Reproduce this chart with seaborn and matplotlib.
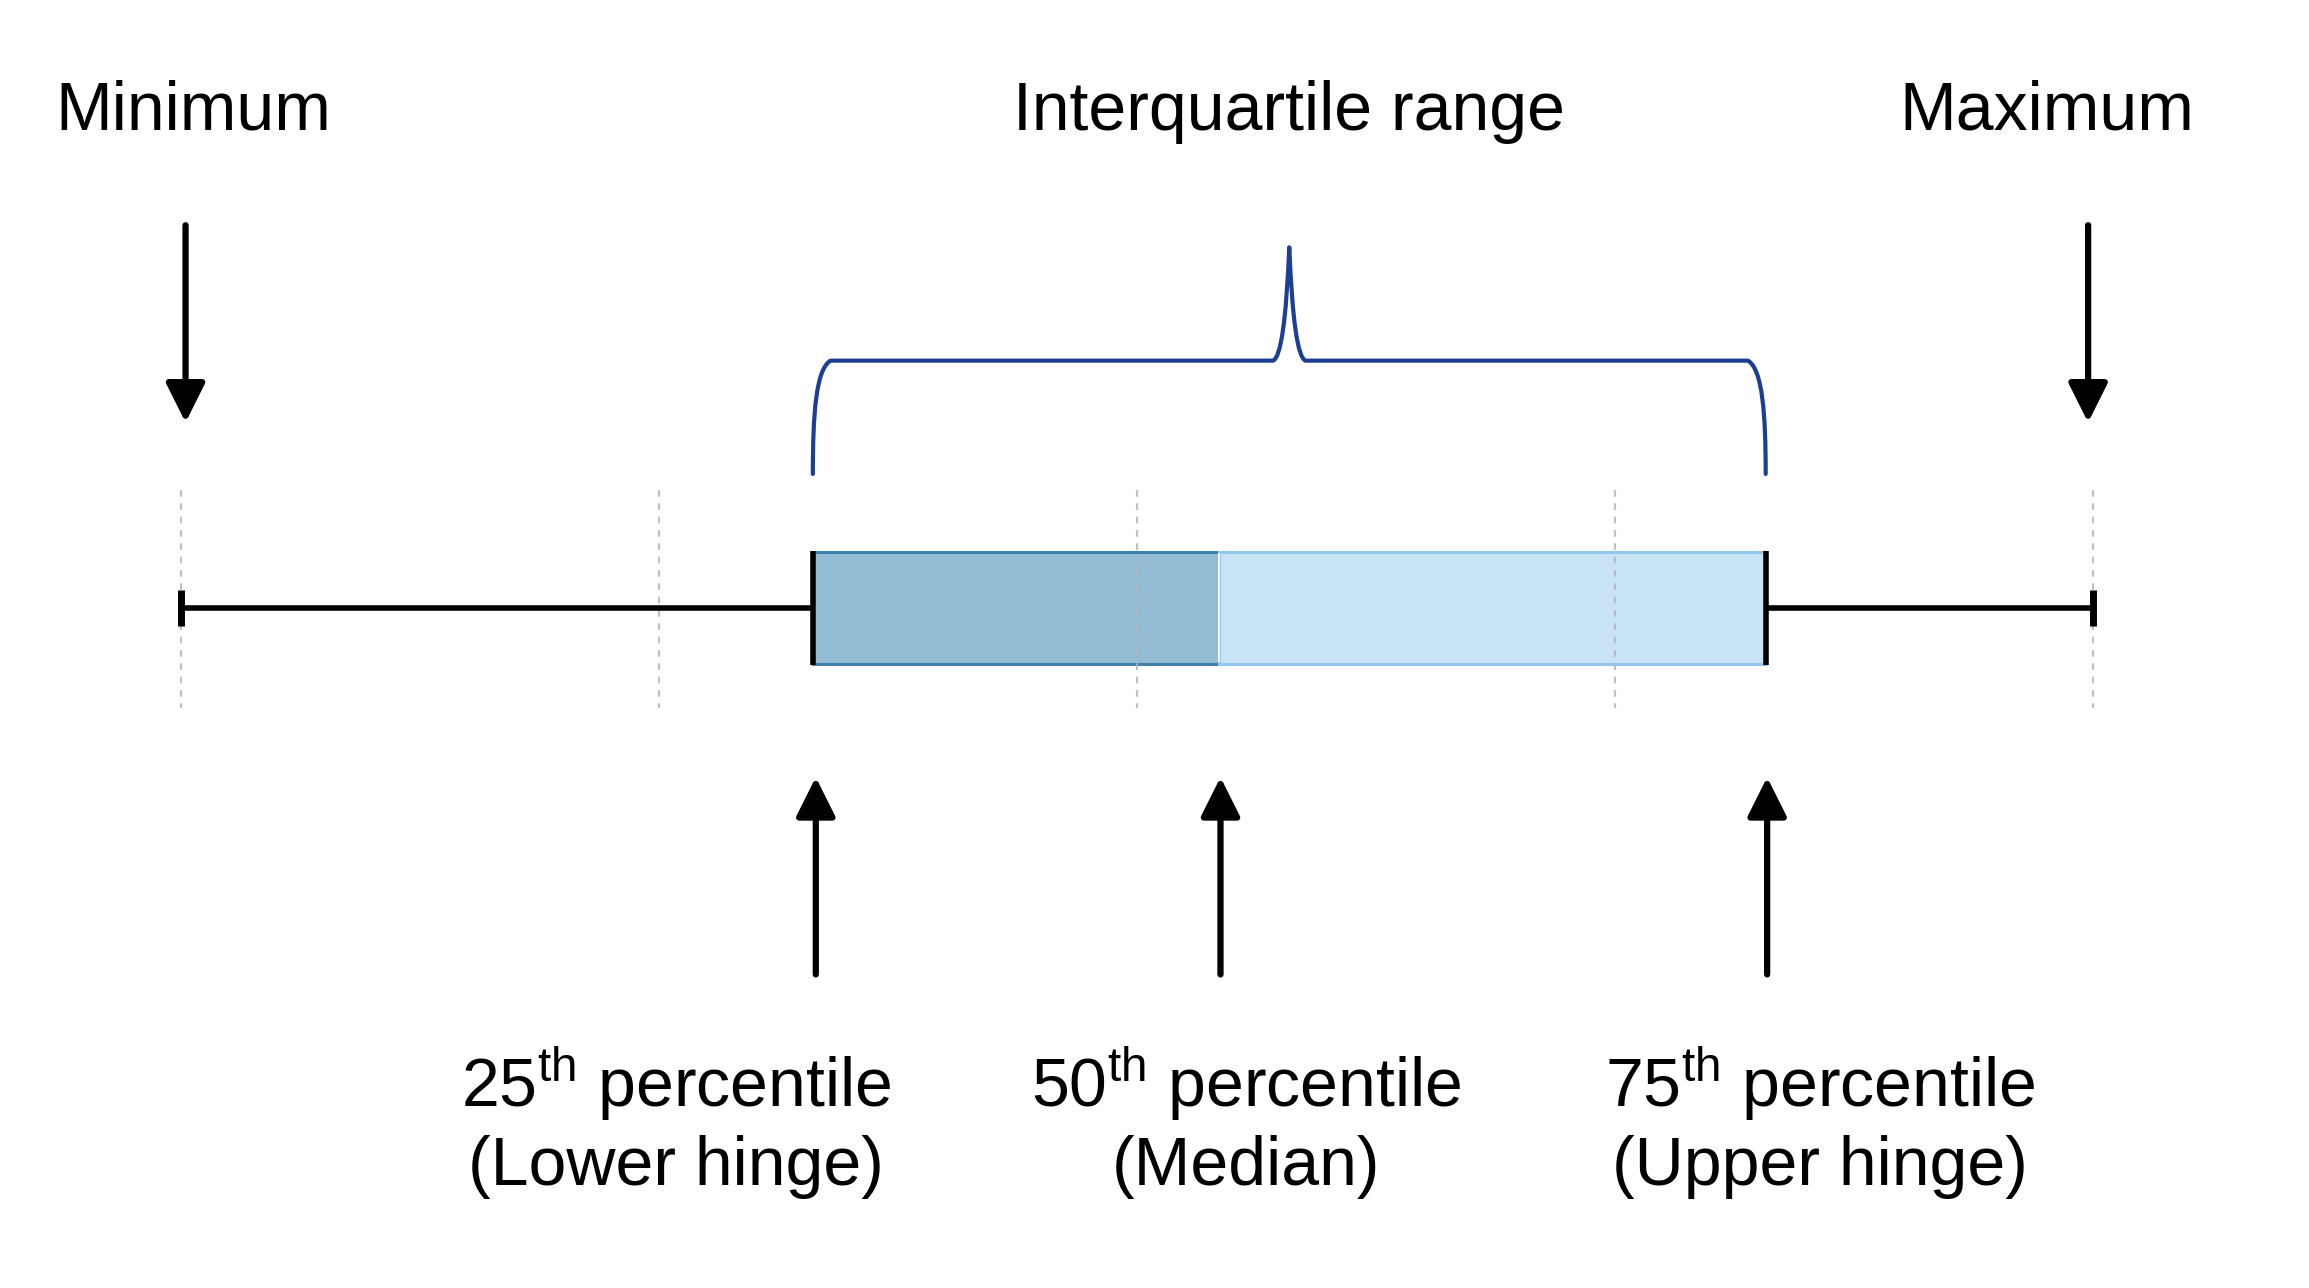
import numpy as np
import pandas as pd
import matplotlib
matplotlib.use("Agg")
import matplotlib.pyplot as plt
from matplotlib.path import Path
from matplotlib.patches import PathPatch
import seaborn as sns

# ---- data (percent scale) ----
stat_names = ["Minimum", "25th percentile", "Median", "75th percentile", "Maximum"]
stat_values = [0.0, 33.05, 54.3, 82.9, 100.0]
grid_ticks = [0, 25, 50, 75, 100]
top_labels = ["Minimum", "Interquartile range", "Maximum"]
bottom_labels = [("25$^{\\mathrm{th}}$ percentile", "(Lower hinge)"),
                 ("50$^{\\mathrm{th}}$ percentile", "(Median)"),
                 ("75$^{\\mathrm{th}}$ percentile", "(Upper hinge)")]

vmin, q1, med, q3, vmax = stat_values

sns.set_theme(style="white")
plt.rcParams["font.family"] = ["Liberation Sans", "DejaVu Sans"]
plt.rcParams["mathtext.fontset"] = "custom"
plt.rcParams["mathtext.rm"] = "Liberation Sans"
plt.rcParams["mathtext.it"] = "Liberation Sans"

fig = plt.figure(figsize=(23.09, 12.88), dpi=100)
ax = fig.add_axes([0, 0, 1, 1])
ax.set_axis_off()

# layout helpers (reference frame 1568 x 875)
FW, FH = 1568.0, 875.0
PX0, PX100 = 123.0, 1421.0
def px2x(px):
    return (px - PX0) / (PX100 - PX0) * 100.0
def dx(px):
    return px / (PX100 - PX0) * 100.0

ax.set_xlim(px2x(0), px2x(FW))
ax.set_ylim(FH, 0)

yc = 413
box_h = 76
FS = 49

# dashed reference lines
ax.vlines(grid_ticks, 333, 481, colors="#b5b5b5", linestyles=(0, (3, 3)),
          linewidth=1.6, zorder=3, alpha=0.85)

# box: lower half and upper half
ax.barh(yc, med - q1, left=q1, height=box_h, color="#93bbd4",
        edgecolor="#3f80ad", linewidth=2.2, zorder=2)
ax.barh(yc, q3 - med, left=med, height=box_h, color="#c7e3f5",
        edgecolor="#92c6ea", linewidth=2.2, zorder=2)
ax.vlines([med], yc - box_h / 2 + 1, yc + box_h / 2 - 1, colors="#eef7fd",
          lw=1.5, zorder=2.5)

# whiskers
ax.plot([vmin, q1], [yc, yc], color="black", lw=4.0, zorder=4, solid_capstyle="butt")
ax.plot([q3, vmax], [yc, yc], color="black", lw=4.0, zorder=4, solid_capstyle="butt")
ax.vlines([vmin, vmax], yc - 12, yc + 12, colors="black", lw=5.0, zorder=4)
ax.vlines([q1, q3], yc - 39, yc + 39, colors="black", lw=4.0, zorder=5)

# brace over the IQR
xc = (q1 + q3) / 2
yb, yt, yp = 322, 245, 168
r = dx(12)
verts = [
    (q1, yb), (q1, yb - 40), (q1 + dx(2), yt + 6), (q1 + r, yt),
    (xc - dx(11), yt),
    (xc - dx(3), yt - 3), (xc, yp),
    (xc + dx(3), yt - 3), (xc + dx(11), yt),
    (q3 - r, yt),
    (q3 - dx(2), yt + 6), (q3, yb - 40), (q3, yb),
]
codes = [Path.MOVETO, Path.CURVE4, Path.CURVE4, Path.CURVE4,
         Path.LINETO,
         Path.CURVE3, Path.CURVE3,
         Path.CURVE3, Path.CURVE3,
         Path.LINETO,
         Path.CURVE4, Path.CURVE4, Path.CURVE4]
ax.add_patch(PathPatch(Path(verts, codes), fill=False, edgecolor="#1c3f94",
                       lw=3.0, capstyle="round", joinstyle="round", zorder=4))

# arrows
aprops = dict(arrowstyle="-|>,head_length=0.6,head_width=0.3", color="black",
              lw=4.5, shrinkA=0, shrinkB=0, mutation_scale=40)
for xv in [vmin + dx(3), vmax - dx(3)]:
    ax.annotate("", xy=(xv, 287), xytext=(xv, 153), arrowprops=aprops)
for xv in [q1 + dx(2), med + dx(1), q3 + dx(1)]:
    ax.annotate("", xy=(xv, 528), xytext=(xv, 662), arrowprops=aprops)

# top labels
top_x = [px2x(131.5), xc, px2x(1390)]
for lab, xv in zip(top_labels, top_x):
    ax.text(xv, 88, lab, ha="center", va="baseline", fontsize=FS, color="black")

# bottom labels
bot_x = [px2x(459), px2x(846), px2x(1236)]
for (l1, l2), xv in zip(bottom_labels, bot_x):
    ax.text(xv, 752, l1, ha="center", va="baseline", fontsize=FS, color="black")
    ax.text(xv, 805, l2, ha="center", va="baseline", fontsize=FS, color="black")

fig.savefig("out.png", dpi=100, facecolor="white")
